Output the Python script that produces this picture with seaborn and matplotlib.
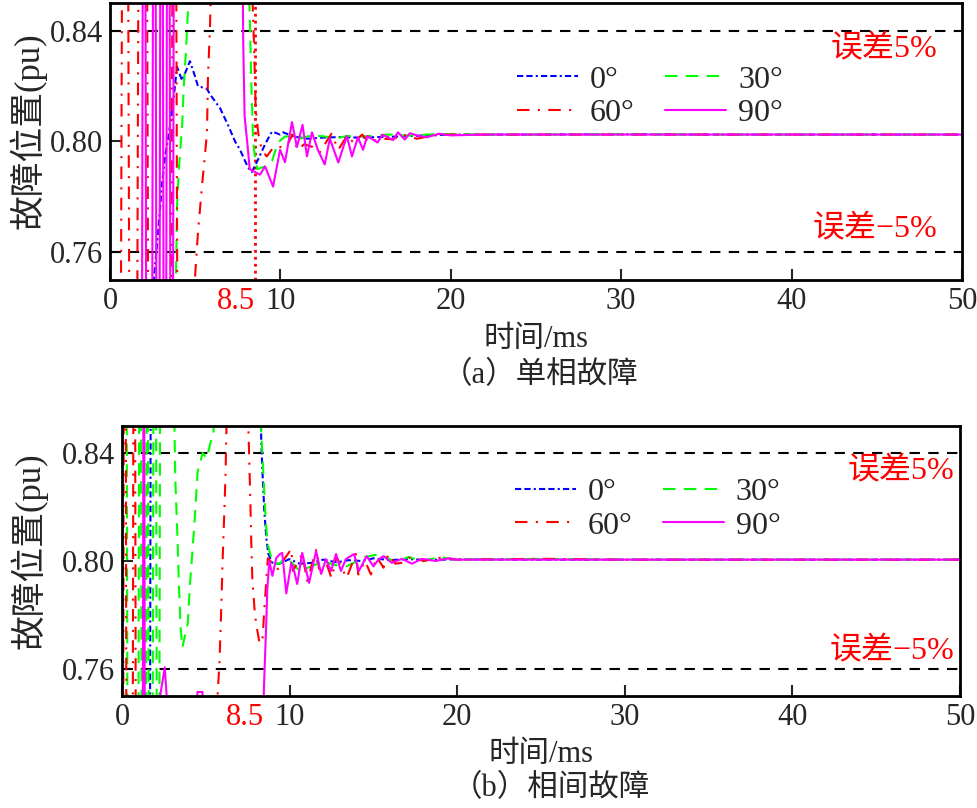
import matplotlib
matplotlib.use("Agg")
import pandas as pd
import seaborn as sns
import matplotlib.pyplot as plt

ANGLES = ["0°", "30°", "60°", "90°"]
COLORS = {"0°": "#0000ff", "30°": "#00ff00", "60°": "#ff0000", "90°": "#ff00ff"}
DASHES = {"0°": (3, 1.5, 3, 1.5, 1, 1.5), "30°": (6, 4), "60°": (6, 4, 1, 4), "90°": ""}

# (a) single phase fault
a_t_0 = [0.0, 2.35, 2.64, 2.82, 3.05, 3.23, 3.40, 3.64, 3.81, 3.93,
         4.23, 4.69, 4.99, 5.16, 5.69, 5.87, 6.46, 6.92, 7.34, 7.63,
         8.10, 8.33, 8.69, 9.10, 9.51, 9.98, 10.15, 10.8, 11.6, 12.5,
         13.5, 14.5, 15.8, 17.0, 18.5, 20.0, 25.0, 30.0, 35.0, 40.0,
         45.0, 50.0]
a_v_0 = [0.700, 0.735, 0.7548, 0.767, 0.7844, 0.7946, 0.8007, 0.8105, 0.820, 0.827,
         0.822, 0.829, 0.8235, 0.820, 0.819, 0.817, 0.812, 0.806, 0.800, 0.797,
         0.7906, 0.789, 0.7935, 0.799, 0.8036, 0.8025, 0.8033, 0.8018, 0.801, 0.8014,
         0.8016, 0.8014, 0.8016, 0.8018, 0.8022, 0.8025, 0.8025, 0.8026, 0.8025, 0.8025,
         0.8025, 0.8025]

a_t_30 = [0.0, 3.75, 3.87, 3.93, 4.05, 4.23, 4.34, 4.46, 4.58, 4.75,
          8.05, 8.2, 8.3, 8.4, 8.52, 8.65, 9.10, 9.51, 9.86, 10.27,
          10.74, 11.2, 11.8, 12.6, 13.3, 13.9, 14.8, 16.4, 17.5, 19.2,
          22.0, 25.0, 30.0, 35.0, 40.0, 45.0, 50.0]
a_v_30 = [0.700, 0.730, 0.751, 0.7765, 0.791, 0.8054, 0.821, 0.833, 0.848, 0.880,
          0.880, 0.845, 0.820, 0.800, 0.7935, 0.790, 0.791, 0.793, 0.7996, 0.8018,
          0.8018, 0.8011, 0.8022, 0.8018, 0.8011, 0.802, 0.8018, 0.8025, 0.8021, 0.8027,
          0.8025, 0.8025, 0.8026, 0.8025, 0.8025, 0.8025, 0.8025]

a_t_60 = [0.0, 0.62, 0.75, 1.02, 1.15, 1.58, 1.71, 2.13, 2.26, 3.58,
          3.71, 3.84, 3.97, 4.99, 5.16, 5.40, 5.69, 5.75, 5.87, 6.0,
          8.2, 8.45, 8.55, 8.7, 8.9, 9.2, 9.6, 10.1, 10.4, 10.7,
          11.0, 11.4, 11.9, 12.3, 12.6, 13.0, 13.4, 13.9, 14.3, 14.8,
          15.2, 15.9, 16.6, 17.2, 18.0, 19.0, 20.0, 25.0, 30.0, 35.0,
          40.0, 45.0, 50.0]
a_v_60 = [0.700, 0.700, 0.950, 0.950, 0.700, 0.700, 0.950, 0.950, 0.700, 0.700,
          0.950, 0.950, 0.700, 0.751, 0.767, 0.784, 0.803, 0.8235, 0.8416, 0.880,
          0.880, 0.835, 0.812, 0.803, 0.797, 0.7946, 0.798, 0.798, 0.7985, 0.8025,
          0.797, 0.799, 0.798, 0.796, 0.799, 0.8028, 0.797, 0.802, 0.7996, 0.8025,
          0.7996, 0.801, 0.8008, 0.8025, 0.801, 0.8022, 0.8025, 0.8025, 0.8025, 0.8025,
          0.8025, 0.8025, 0.8025]

a_t_90 = [0.0, 1.85, 1.95, 2.05, 2.15, 2.45, 2.55, 2.65, 2.75, 2.88,
          2.98, 3.07, 3.17, 3.27, 3.37, 3.47, 3.57, 3.67, 3.77, 7.70,
          7.82, 7.90, 8.05, 8.20, 8.50, 8.80, 9.10, 9.57, 9.98, 10.27,
          10.68, 10.97, 11.30, 11.56, 11.85, 12.20, 12.60, 12.90, 13.40, 13.90,
          14.20, 14.55, 14.85, 15.10, 15.70, 16.00, 16.60, 16.90, 17.30, 17.60,
          18.0, 18.6, 19.3, 20.0, 22.0, 25.0, 30.0, 35.0, 40.0, 45.0,
          50.0]
a_v_90 = [0.650, 0.650, 0.950, 0.950, 0.650, 0.650, 0.950, 0.950, 0.650, 0.650,
          0.950, 0.950, 0.650, 0.650, 0.950, 0.950, 0.650, 0.650, 0.950, 0.920,
          0.835, 0.809, 0.800, 0.790, 0.789, 0.788, 0.791, 0.7837, 0.797, 0.7925,
          0.8070, 0.798, 0.806, 0.7946, 0.8033, 0.797, 0.7917, 0.801, 0.7924, 0.802,
          0.7946, 0.8015, 0.797, 0.802, 0.7996, 0.8025, 0.8005, 0.8033, 0.8007, 0.8030,
          0.8022, 0.8015, 0.8028, 0.8022, 0.8025, 0.8025, 0.8025, 0.8025, 0.8025, 0.8025,
          0.8025]

# (b) phase-to-phase fault
b_t_0 = [0.0, 1.64, 1.74, 8.10, 8.31, 8.37, 8.49, 8.61, 8.73, 9.0,
         9.4, 9.98, 10.6, 11.3, 12.0, 12.8, 13.5, 14.3, 15.0, 16.0,
         17.0, 18.0, 20.0, 25.0, 30.0, 35.0, 40.0, 45.0, 50.0]
b_v_0 = [0.650, 0.650, 0.950, 0.900, 0.8442, 0.8343, 0.8184, 0.8085, 0.8026, 0.799,
         0.799, 0.8007, 0.799, 0.7993, 0.8005, 0.7995, 0.8003, 0.800, 0.801, 0.8003,
         0.8007, 0.8004, 0.8006, 0.8005, 0.8005, 0.8005, 0.8005, 0.8005, 0.8005]

b_t_30 = [0.0, 0.25, 0.35, 0.95, 1.05, 1.10, 1.20, 1.40, 1.50, 1.52,
          1.62, 1.80, 1.90, 2.00, 2.10, 2.20, 2.30, 3.05, 3.18, 3.30,
          3.40, 3.50, 3.60, 3.92, 4.04, 4.33, 4.51, 4.81, 5.05, 5.20,
          5.34, 5.45, 5.70, 8.20, 8.30, 8.45, 8.60, 8.70, 9.0, 9.4,
          9.8, 10.6, 11.3, 12.0, 12.7, 13.4, 14.5, 15.4, 16.3, 17.1,
          17.9, 18.9, 20.0, 25.0, 30.0, 35.0, 40.0, 45.0, 50.0]
b_v_30 = [0.950, 0.950, 0.650, 0.650, 0.950, 0.950, 0.650, 0.650, 0.950, 0.950,
          0.650, 0.650, 0.950, 0.950, 0.650, 0.650, 0.950, 0.880, 0.830, 0.810,
          0.790, 0.775, 0.768, 0.7768, 0.790, 0.8147, 0.833, 0.840, 0.838, 0.8417,
          0.8454, 0.8462, 0.900, 0.900, 0.849, 0.830, 0.8125, 0.806, 0.799, 0.799,
          0.8015, 0.7963, 0.798, 0.800, 0.7985, 0.798, 0.8015, 0.8026, 0.7995, 0.8015,
          0.7998, 0.8015, 0.8005, 0.8008, 0.8005, 0.8005, 0.8005, 0.8005, 0.8005]

b_t_60 = [0.0, 0.05, 0.12, 0.20, 0.28, 0.62, 0.70, 0.76, 0.84, 5.60,
          5.70, 5.82, 5.88, 5.94, 6.00, 6.12, 6.18, 6.23, 6.35, 7.45,
          7.54, 7.60, 7.66, 7.72, 7.78, 7.90, 8.00, 8.20, 8.37, 8.50,
          8.70, 9.0, 9.3, 9.6, 10.1, 10.2, 10.75, 11.05, 11.6, 11.8,
          12.2, 12.5, 12.8, 13.4, 13.95, 14.1, 14.5, 14.85, 15.2, 15.6,
          15.9, 16.3, 16.9, 17.2, 18.0, 19.0, 20.0, 25.0, 30.0, 35.0,
          40.0, 45.0, 50.0]
b_v_60 = [0.650, 0.650, 0.950, 0.950, 0.650, 0.650, 0.950, 0.950, 0.650, 0.700,
          0.750, 0.763, 0.775, 0.7864, 0.800, 0.821, 0.833, 0.849, 0.900, 0.900,
          0.849, 0.8357, 0.821, 0.8048, 0.7926, 0.7827, 0.7768, 0.7698, 0.7698, 0.783,
          0.801, 0.799, 0.797, 0.800, 0.8044, 0.7963, 0.8026, 0.7926, 0.8044, 0.795,
          0.799, 0.7937, 0.8015, 0.7937, 0.8026, 0.795, 0.800, 0.795, 0.8015, 0.7975,
          0.8026, 0.799, 0.7995, 0.8015, 0.800, 0.8012, 0.8005, 0.8008, 0.8005, 0.8005,
          0.8005, 0.8005, 0.8005]

b_t_90 = [0.0, 1.22, 1.30, 1.38, 2.20, 2.26, 2.55, 2.67, 2.75, 4.45,
          4.50, 4.80, 4.85, 8.40, 8.49, 8.61, 8.67, 8.79, 8.97, 9.20,
          9.40, 9.56, 9.80, 10.10, 10.27, 10.45, 10.75, 11.16, 11.58, 11.88,
          12.17, 12.47, 12.77, 13.06, 13.36, 13.84, 14.13, 14.60, 15.00, 15.30,
          15.60, 16.10, 16.70, 17.30, 17.90, 18.7, 19.5, 20.0, 25.0, 30.0,
          35.0, 40.0, 45.0, 50.0]
b_v_90 = [0.650, 0.650, 0.950, 0.650, 0.740, 0.7495, 0.7606, 0.7495, 0.740, 0.740,
          0.7515, 0.7515, 0.740, 0.740, 0.7569, 0.7779, 0.790, 0.800, 0.7945, 0.801,
          0.8025, 0.803, 0.788, 0.7993, 0.7963, 0.7915, 0.803, 0.7919, 0.8037, 0.7952,
          0.8007, 0.7963, 0.8026, 0.7963, 0.8007, 0.8026, 0.7963, 0.8018, 0.798, 0.8005,
          0.8018, 0.7993, 0.8008, 0.799, 0.8008, 0.8, 0.801, 0.8005, 0.8005, 0.8005,
          0.8005, 0.8005, 0.8005, 0.8005]

x_ticks = [0, 10, 20, 30, 40, 50]
y_ticks = [0.76, 0.80, 0.84]
y_ticklabels = ["0.76", "0.80", "0.84"]
t_mark = 8.5
err_levels = [0.84, 0.76]


def build_frame(series):
    frames = []
    for angle, (t, v) in zip(ANGLES, series):
        frames.append(pd.DataFrame({"t": t, "v": v, "angle": angle}))
    return pd.concat(frames, ignore_index=True)


def draw_panel(ax, series, caption, cap_xy, leg_anchor, txt_x, txt_y, ylab_x, xlab_y, mark_line):
    df = build_frame(series)
    for lvl in err_levels:
        ax.axhline(lvl, color="black", linestyle=(0, (5, 4)), linewidth=1.5, zorder=1)
    if mark_line:
        ax.axvline(t_mark, color="red", linestyle=(0, (1, 1.5)), linewidth=2, zorder=1)
    sns.lineplot(data=df, x="t", y="v", hue="angle", style="angle",
                 hue_order=ANGLES, style_order=ANGLES, palette=COLORS, dashes=DASHES,
                 sort=False, estimator=None, linewidth=1.5, ax=ax)
    ax.set_xlim(0, 50)
    ax.set_ylim(0.75, 0.85)
    ax.set_xticks(x_ticks)
    ax.set_yticks(y_ticks)
    ax.set_yticklabels(y_ticklabels)
    ax.set_xticks([t_mark], minor=True)
    ax.set_xticklabels(["8.5"], minor=True)
    ax.tick_params(axis="both", which="major", direction="in", length=8, width=1.5,
                   labelsize=22, bottom=True, left=True, top=False, right=False, pad=5)
    ax.tick_params(axis="x", which="minor", length=0, labelsize=22, labelcolor="red", pad=5)
    for lab in ax.get_xticklabels(minor=True):
        lab.set_horizontalalignment("right")
    for s in ax.spines.values():
        s.set_linewidth(2)
        s.set_color("black")

    ax.set_xlabel("时间/ms", fontsize=22)
    ax.set_ylabel("故障位置(pu)", fontsize=25)
    ax.xaxis.set_label_coords(0.5, xlab_y)
    ax.yaxis.set_label_coords(ylab_x, 0.54)

    handles, labels = ax.get_legend_handles_labels()
    order = [0, 2, 1, 3]
    ax.legend([handles[i] for i in order], [labels[i] for i in order], ncol=2,
              frameon=False, loc="upper left", bbox_to_anchor=leg_anchor,
              fontsize=23, handlelength=1.9, handletextpad=0.38, columnspacing=0.95,
              labelspacing=0.12, borderpad=0, borderaxespad=0)

    tr = ax.get_yaxis_transform()
    ax.text(txt_x, txt_y[0], "误差5%", transform=tr, ha="right", va="center",
            color="red", fontsize=23)
    ax.text(txt_x, txt_y[1], "误差−5%", transform=tr, ha="right", va="center",
            color="red", fontsize=23)
    ax.figure.text(cap_xy[0], cap_xy[1], caption, ha="center", va="center", fontsize=22)


sns.set_style("white")
plt.rcParams["font.family"] = ["Liberation Serif", "Noto Sans CJK SC"]

fig = plt.figure(figsize=(9.77, 8.08), dpi=100)
ax_a = fig.add_axes([0.1126, 0.6535, 0.872, 0.3428])
ax_b = fig.add_axes([0.1249, 0.1386, 0.8577, 0.3342])

draw_panel(ax_a, [(a_t_0, a_v_0), (a_t_30, a_v_30), (a_t_60, a_v_60), (a_t_90, a_v_90)],
           "（a）单相故障", (0.553, 0.535), (0.478, 0.775), 0.971, (0.8330, 0.7681),
           -0.074, -0.162, True)
draw_panel(ax_b, [(b_t_0, b_v_0), (b_t_30, b_v_30), (b_t_60, b_v_60), (b_t_90, b_v_90)],
           "（b）相间故障", (0.564, 0.024), (0.469, 0.807), 0.993, (0.8330, 0.7664),
           -0.089, -0.163, False)

fig.savefig("out.png", dpi=100)
